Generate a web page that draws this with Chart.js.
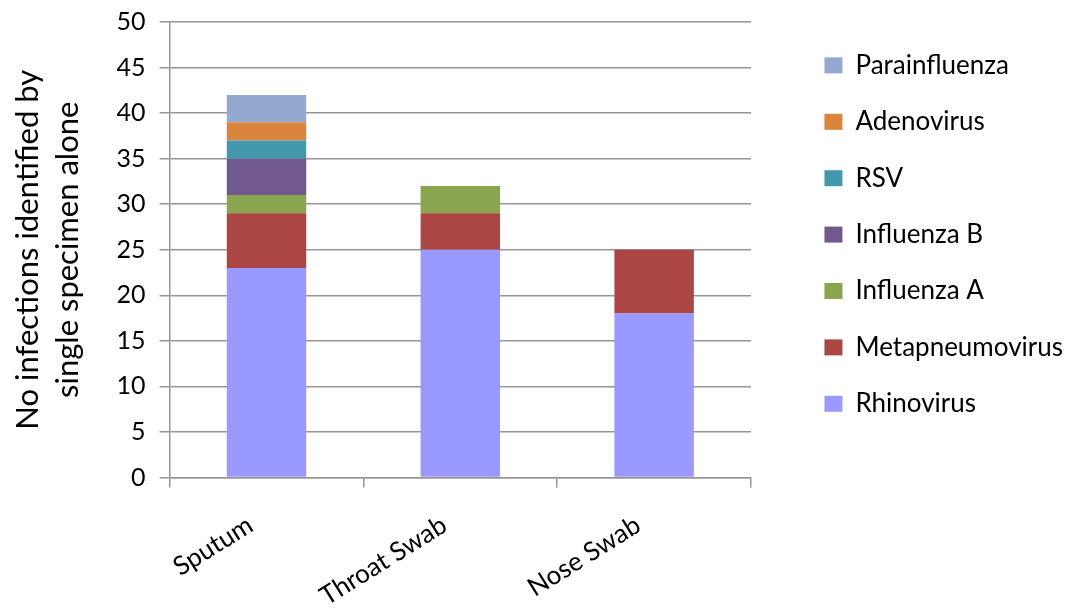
<!DOCTYPE html>
<html>
<head>
<meta charset="utf-8">
<script src="https://cdn.jsdelivr.net/npm/chart.js@4"></script>
<style>
    html, body { margin: 0; padding: 0; background: #fff; }
</style>
</head>
<body>
<canvas id="chart" width="1078" height="614"></canvas>
<script>
// categories and series
const categories = ["Sputum", "Throat Swab", "Nose Swab"];
const rhinovirus = [23, 25, 18];
const metapneumovirus = [6, 4, 7];
const influenzaA = [2, 3, 0];
const influenzaB = [4, 0, 0];
const rsv = [2, 0, 0];
const adenovirus = [2, 0, 0];
const parainfluenza = [3, 0, 0];

// y axis range
const yMin = 0;
const yMax = 50;
const yStep = 5;

const yTitle = ["No infections identified by", "single specimen alone"];

draw_chart();

function draw_chart() {
    const $chart = document.querySelector("#chart");
    if (!$chart) {
        return;
    }
    const ctx = $chart.getContext("2d");

    const font = "Lato";
    const gridColor = "#969696";

    // bottom to top of the stack
    const series = [
        ["Rhinovirus", rhinovirus, "#9999ff"],
        ["Metapneumovirus", metapneumovirus, "#aa4644"],
        ["Influenza A", influenzaA, "#89a54e"],
        ["Influenza B", influenzaB, "#71588f"],
        ["RSV", rsv, "#4198af"],
        ["Adenovirus", adenovirus, "#db843d"],
        ["Parainfluenza", parainfluenza, "#93a9cf"],
    ];

    const datasets = series.map(([label, values, color]) => ({
        label: label,
        data: values,
        backgroundColor: color,
        borderWidth: 0,
        categoryPercentage: 1.0,
        barPercentage: 0.41,
    }));

    new Chart(ctx, {
        type: "bar",
        data: {
            labels: categories,
            datasets: datasets,
        },
        options: {
            responsive: false,
            animation: false,
            layout: {
                padding: { top: 22, right: 5, bottom: -20, left: 8 },
            },
            plugins: {
                tooltip: { enabled: false },
                legend: {
                    position: "right",
                    align: "start",
                    reverse: true,
                    maxWidth: 400,
                    labels: {
                        color: "#000",
                        font: { family: font, size: 26 },
                        boxWidth: 18,
                        boxHeight: 16,
                        padding: 30.4,
                    },
                },
            },
            scales: {
                x: {
                    stacked: true,
                    grid: {
                        offset: true,
                        drawOnChartArea: false,
                        drawTicks: true,
                        tickLength: 10,
                        color: gridColor,
                        lineWidth: 1.5,
                    },
                    border: { color: gridColor, width: 1.5 },
                    ticks: {
                        color: "#000",
                        font: { family: font, size: 26 },
                        minRotation: 32,
                        maxRotation: 32,
                        labelOffset: -16,
                        padding: 22,
                    },
                },
                y: {
                    stacked: true,
                    min: yMin,
                    max: yMax,
                    grid: {
                        color: gridColor,
                        lineWidth: 1.5,
                        tickLength: 10,
                    },
                    border: { color: gridColor, width: 1.5 },
                    ticks: {
                        stepSize: yStep,
                        color: "#000",
                        font: { family: font, size: 25, lineHeight: 0.6 },
                        padding: 14,
                    },
                    title: {
                        display: true,
                        text: yTitle,
                        color: "#000",
                        font: { family: font, size: 31, lineHeight: 1.3 },
                        padding: { top: 0, bottom: 14 },
                    },
                },
                // empty axis that keeps the gap between plot and legend
                gap: {
                    type: "linear",
                    position: "right",
                    display: true,
                    grid: { display: false },
                    border: { display: false },
                    ticks: { display: false },
                    afterFit: (scale) => {
                        scale.width = 43;
                    },
                },
            },
        },
    });
}
</script>
</body>
</html>
